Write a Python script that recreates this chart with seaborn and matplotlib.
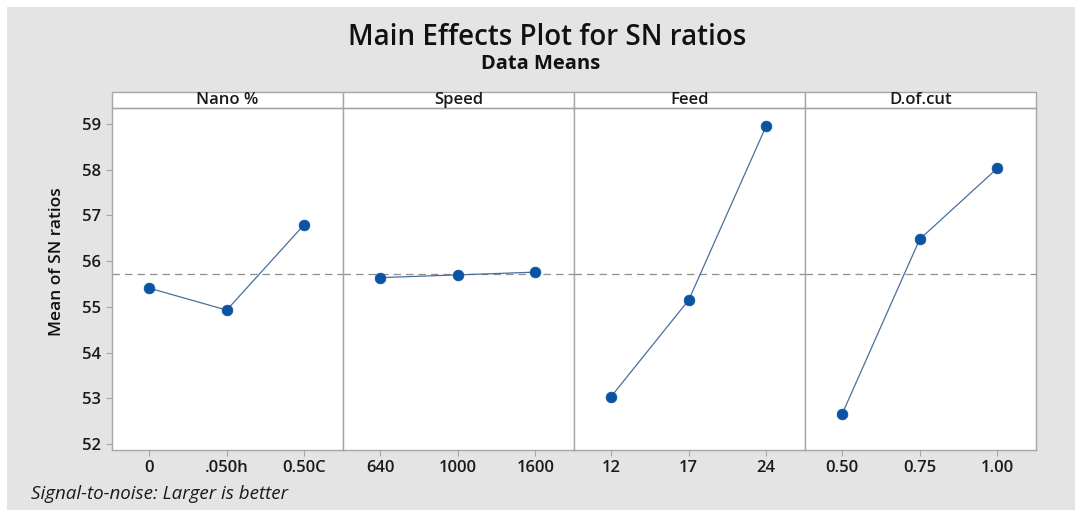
import matplotlib
matplotlib.use("Agg")
import matplotlib.pyplot as plt
from matplotlib.patches import Rectangle
import seaborn as sns
import numpy as np
import pandas as pd

factors = ["Nano %", "Speed", "Feed", "D.of.cut"]
nano_levels = ["0", ".050h", "0.50C"]
speed_levels = ["640", "1000", "1600"]
feed_levels = ["12", "17", "24"]
doc_levels = ["0.50", "0.75", "1.00"]
nano_means = [55.41, 54.93, 56.80]
speed_means = [55.64, 55.70, 55.76]
feed_means = [53.04, 55.15, 58.96]
doc_means = [52.66, 56.48, 58.03]
grand_mean = 55.72
y_ticks = [52, 53, 54, 55, 56, 57, 58, 59]

levels = [nano_levels, speed_levels, feed_levels, doc_levels]
means = [nano_means, speed_means, feed_means, doc_means]

sns.set_theme(style="white")
plt.rcParams["font.family"] = ["Open Sans", "DejaVu Sans"]

W, H = 1075, 512
fig = plt.figure(figsize=(W / 100, H / 100), dpi=100, facecolor="white")
fig.patches.append(Rectangle((7 / W, 2 / H), 1 - 7 / W, 1 - 9 / H, transform=fig.transFigure,
                             facecolor="#e4e4e4", edgecolor="none", zorder=-10))

left, right = 112 / W, 1036 / W
bottom, top = 1 - 450 / H, 1 - 108 / H
pw = (right - left) / 4
axh_px = 450 - 108
border = "#a6a6a6"
marker_c = "#0a54a3"
line_c = "#4a6f99"
txt = "#1a1a1a"

axes = []
for i, (f, lv, mv) in enumerate(zip(factors, levels, means)):
    ax = fig.add_axes([left + i * pw, bottom, pw, top - bottom])
    axes.append(ax)
    df = pd.DataFrame({"pos": np.arange(len(lv)), "mean": mv})
    ax.axhline(grand_mean, color="#8f8f8f", lw=0.9, ls=(0, (6, 4)), zorder=1)
    sns.lineplot(data=df, x="pos", y="mean", ax=ax, color=line_c, lw=0.9, zorder=2)
    sns.scatterplot(data=df, x="pos", y="mean", ax=ax, color=marker_c, s=60,
                    edgecolor=marker_c, linewidth=0.5, zorder=3)
    ax.set_xlim(-0.48, 2.5)
    ax.set_ylim(51.87, 59.35)
    ax.set_facecolor("white")
    ax.set_xlabel("")
    ax.set_ylabel("")
    ax.set_xticks(np.arange(len(lv)))
    ax.set_xticklabels(lv, fontsize=12, color=txt, fontweight="semibold")
    for s in ax.spines.values():
        s.set_color(border)
        s.set_linewidth(1.0)
    ax.tick_params(axis="x", length=4, width=0.8, color=border, pad=3, bottom=True)
    if i == 0:
        ax.set_yticks(y_ticks)
        ax.set_yticklabels([str(t) for t in y_ticks], fontsize=12, color=txt,
                           fontweight="semibold")
        ax.tick_params(axis="y", length=4, width=0.8, color=border, pad=4, left=True)
    else:
        ax.set_yticks(y_ticks)
        ax.tick_params(axis="y", left=False, labelleft=False)
    sh = 16 / axh_px
    ax.add_patch(Rectangle((0, 1), 1, sh, transform=ax.transAxes, clip_on=False,
                           facecolor="white", edgecolor=border, lw=1.0))
    ax.text(0.5, 1 + sh / 2, f, transform=ax.transAxes, ha="center", va="center",
            fontsize=12, fontweight="semibold", color=txt)

fig.text(547 / W, 1 - 45 / H, "Main Effects Plot for SN ratios", ha="center", va="baseline",
         fontsize=20, fontweight="semibold", color="#111111")
fig.text(541 / W, 1 - 69 / H, "Data Means", ha="center", va="baseline",
         fontsize=14.5, fontweight="bold", color="#111111")
fig.text(57 / W, 1 - 262 / H, "Mean of SN ratios", ha="center", va="center",
         rotation=90, fontsize=12.5, fontweight="semibold", color="#111111")
fig.text(31 / W, 1 - 494 / H, "Signal-to-noise: Larger is better", ha="left", va="center",
         fontsize=13.5, style="italic", color=txt)

fig.savefig("out.png", dpi=100, facecolor=fig.get_facecolor())
